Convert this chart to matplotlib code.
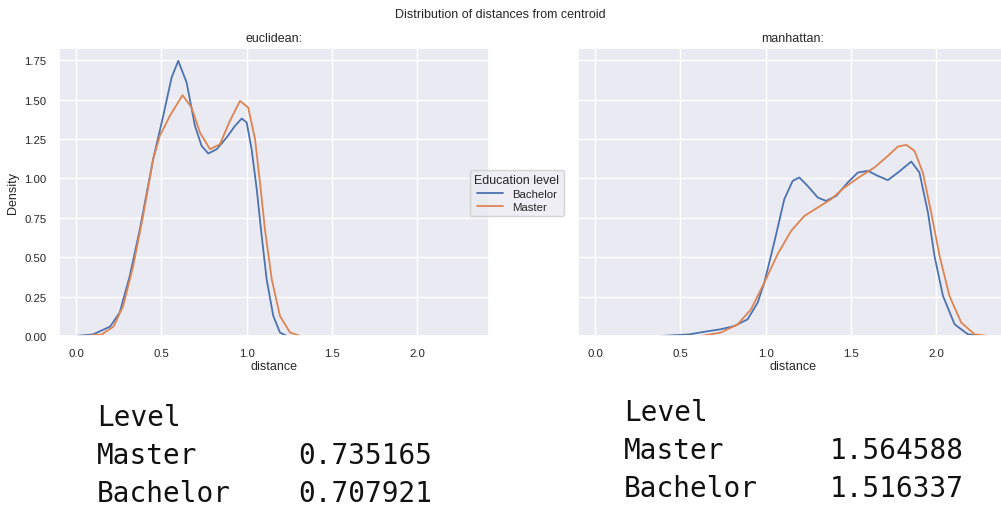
import matplotlib
matplotlib.use("Agg")
import matplotlib.pyplot as plt
import seaborn as sns

# values (distance, density)
euc_bach_x = [0.00, 0.10, 0.20, 0.256, 0.315, 0.374, 0.452, 0.511, 0.56, 0.599, 0.648, 0.697, 0.736,
              0.775, 0.824, 0.883, 0.931, 0.971, 1.00, 1.029, 1.059, 1.088, 1.117, 1.156, 1.195, 1.235]
euc_bach_y = [0.00, 0.01, 0.06, 0.149, 0.381, 0.677, 1.122, 1.397, 1.64, 1.746, 1.609, 1.333, 1.206,
              1.158, 1.185, 1.26, 1.333, 1.38, 1.355, 1.185, 0.931, 0.635, 0.36, 0.127, 0.022, 0.00]
euc_mast_x = [0.06, 0.15, 0.22, 0.276, 0.335, 0.393, 0.452, 0.491, 0.55, 0.624, 0.677, 0.726, 0.785,
              0.843, 0.902, 0.961, 1.009, 1.049, 1.078, 1.107, 1.147, 1.195, 1.254, 1.313]
euc_mast_y = [0.00, 0.01, 0.06, 0.19, 0.444, 0.762, 1.122, 1.27, 1.397, 1.528, 1.45, 1.291, 1.185,
              1.217, 1.365, 1.492, 1.45, 1.249, 0.974, 0.677, 0.36, 0.127, 0.022, 0.00]

man_bach_x = [0.39, 0.55, 0.66, 0.738, 0.816, 0.894, 0.953, 0.992, 1.05, 1.109, 1.158, 1.197, 1.246,
              1.305, 1.354, 1.413, 1.481, 1.54, 1.599, 1.657, 1.716, 1.775, 1.853, 1.901, 1.951,
              1.989, 2.039, 2.107, 2.185, 2.26]
man_bach_y = [0.00, 0.01, 0.03, 0.043, 0.063, 0.106, 0.212, 0.339, 0.593, 0.868, 0.984, 1.006, 0.952,
              0.879, 0.857, 0.889, 0.974, 1.037, 1.048, 1.016, 0.989, 1.037, 1.107, 1.037, 0.783,
              0.508, 0.254, 0.074, 0.011, 0.00]
man_mast_x = [0.62, 0.738, 0.836, 0.914, 0.992, 1.07, 1.149, 1.227, 1.305, 1.383, 1.461, 1.559, 1.637,
              1.716, 1.775, 1.823, 1.872, 1.921, 1.97, 2.019, 2.077, 2.146, 2.224, 2.30]
man_mast_y = [0.00, 0.022, 0.074, 0.169, 0.339, 0.519, 0.667, 0.762, 0.815, 0.868, 0.942, 1.016, 1.069,
              1.143, 1.202, 1.213, 1.175, 1.037, 0.783, 0.508, 0.254, 0.085, 0.011, 0.00]

levels = ["Master", "Bachelor"]
euc_means = [0.735165, 0.707921]
man_means = [1.564588, 1.516337]

sns.set_theme(style="darkgrid")
plt.rcParams['font.family'] = ['Liberation Sans', 'DejaVu Sans']
blue, orange = sns.color_palette("deep")[0], sns.color_palette("deep")[1]

fig = plt.figure(figsize=(10.01, 5.06), dpi=100)
ax1 = fig.add_axes([0.0589, 0.334, 0.4296, 0.569])
ax2 = fig.add_axes([0.5774, 0.334, 0.4296, 0.569])

ax1.plot(euc_bach_x, euc_bach_y, color=blue, lw=1.3, label="Bachelor")
ax1.plot(euc_mast_x, euc_mast_y, color=orange, lw=1.3, label="Master")
ax2.plot(man_bach_x, man_bach_y, color=blue, lw=1.3)
ax2.plot(man_mast_x, man_mast_y, color=orange, lw=1.3)

for ax, name in [(ax1, "euclidean:"), (ax2, "manhattan:")]:
    ax.set_xlim(-0.1, 2.42)
    ax.set_ylim(0, 1.827)
    ax.set_xticks([0.0, 0.5, 1.0, 1.5, 2.0])
    ax.set_yticks([0, 0.25, 0.5, 0.75, 1.0, 1.25, 1.5, 1.75])
    ax.tick_params(labelsize=8.2, pad=3)
    ax.set_title(name, fontsize=9, pad=5)
    ax.set_xlabel("distance", fontsize=9, labelpad=1)

ax1.set_ylabel("Density", fontsize=9, labelpad=4)
ax1.set_yticklabels(["0.00", "0.25", "0.50", "0.75", "1.00", "1.25", "1.50", "1.75"])
ax2.set_yticklabels([])

fig.suptitle("Distribution of distances from centroid", fontsize=9, y=0.982)

h, l = ax1.get_legend_handles_labels()
leg = fig.legend(h, l, title="Education level", loc="center", bbox_to_anchor=(517 / 1001, 1 - 194 / 506),
                 fontsize=8.2, title_fontsize=9, handlelength=2.2, borderpad=0.4, labelspacing=0.25,
                 handletextpad=0.8, facecolor="#EAEAF2", framealpha=0.8, edgecolor="#CCCCCC")

# summary tables printed under the plots (baselines in px)
mono = "DejaVu Sans Mono"
fs = 20
fig.text(97 / 1001, 1 - 426 / 506, "Level", family=mono, fontsize=fs, va="baseline", color="#111111")
for i, (lv, v) in enumerate(zip(levels, euc_means)):
    y = 1 - (464 + i * 38) / 506
    fig.text(97 / 1001, y, lv, family=mono, fontsize=fs, va="baseline", color="#111111")
    fig.text(298 / 1001, y, f"{v:.6f}", family=mono, fontsize=fs, va="baseline", color="#111111")
fig.text(624 / 1001, 1 - 421 / 506, "Level", family=mono, fontsize=fs, va="baseline", color="#111111")
for i, (lv, v) in enumerate(zip(levels, man_means)):
    y = 1 - (459 + i * 38) / 506
    fig.text(624 / 1001, y, lv, family=mono, fontsize=fs, va="baseline", color="#111111")
    fig.text(830 / 1001, y, f"{v:.6f}", family=mono, fontsize=fs, va="baseline", color="#111111")

fig.savefig("out.png", dpi=100, facecolor="white")
